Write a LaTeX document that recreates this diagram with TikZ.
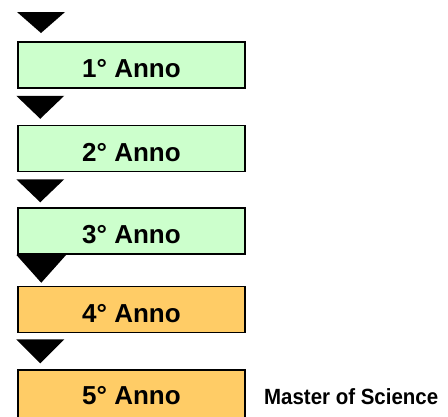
\documentclass[tikz,border=0pt]{standalone}
\usepackage{fontspec}
\setmainfont{Liberation Sans}
\usepackage{tikz}
\usetikzlibrary{calc}

\definecolor{annogreen}{HTML}{CCFFCC}
\definecolor{annoorange}{HTML}{FFCC66}

\tikzset{
  annobox/.style={draw=black,line width=1.5pt,minimum width=227pt,minimum height=46pt,
    inner sep=0pt,text depth=0pt,text height=25pt,
    font=\fontsize{26}{30}\selectfont\bfseries},
}

\begin{document}
\begin{tikzpicture}[x=1pt,y=-1pt]
\useasboundingbox (0,0) rectangle (448,416);
\clip (0,0) rectangle (448,416);

\node[annobox,fill=annogreen] (anno1) at (131.5,65) {1° Anno};
\node[annobox,fill=annogreen] (anno2) at (131.5,148.5) {2° Anno};
\node[annobox,fill=annogreen] (anno3) at (131.5,231) {3° Anno};
\node[annobox,fill=annoorange] (anno4) at (131.5,309.5) {4° Anno};
% last box runs past the lower edge
\node[annobox,fill=annoorange,minimum height=52pt,text height=19pt,text depth=3pt]
  (anno5) at (131.5,396) {5° Anno};

\node[anchor=base west,inner sep=0pt,xscale=0.93,
  font=\fontsize{22}{26}\selectfont\bfseries] (msc) at (264,404) {Master of Science};

% triangles
\fill (17,12) -- (65,12) -- (41,33) -- cycle;
\fill ($(anno1.south west)+(-1,7)$) -- ++(48,0) -- ++(-24,23) -- cycle;
\fill ($(anno2.south west)+(-1,7)$) -- ++(48,0) -- ++(-24,23) -- cycle;
\fill ($(anno3.south west)+(-1,0)$) -- ++(50,0) -- ++(-25,28) -- cycle;
\fill ($(anno4.south west)+(-1,6)$) -- ++(48,0) -- ++(-24,24) -- cycle;

\end{tikzpicture}
\end{document}
